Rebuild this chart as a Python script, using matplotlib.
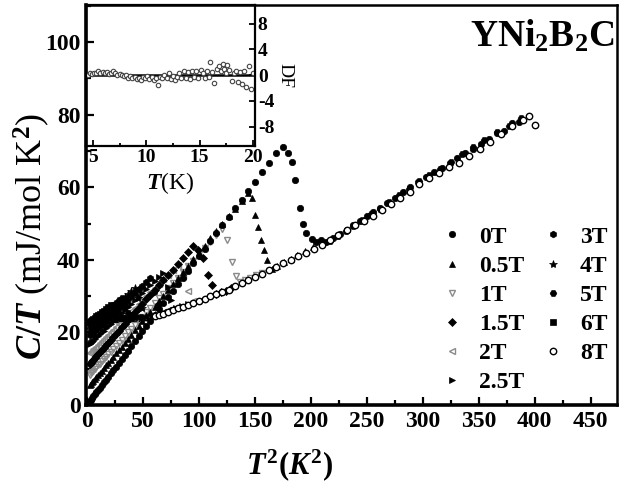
import matplotlib
matplotlib.use('Agg')
import matplotlib.pyplot as plt
from matplotlib.ticker import MultipleLocator
from matplotlib.lines import Line2D

plt.rcParams.update({
    'font.family': 'Liberation Serif',
    'font.weight': 'bold',
    'mathtext.fontset': 'custom',
    'mathtext.rm': 'Liberation Serif:bold',
    'mathtext.it': 'Liberation Serif:italic:bold',
    'mathtext.bf': 'Liberation Serif:bold',
    'axes.unicode_minus': False,
})

# ---------------- data ----------------
# common T^2 sampling (K^2)
T2_GRID = [2.5, 3.5, 4.6, 5.8, 7.1, 8.5, 10.0, 11.6, 13.3, 15.1, 17.0, 19.0, 21.2,
           23.5, 25.9, 28.4, 31.0, 33.8, 36.7, 39.7, 42.8, 46.1, 49.5, 53.0, 56.6,
           60.4, 64.3, 68.3, 72.4, 76.7, 81.1, 85.6, 90.3, 95.1, 100.0, 105.1, 110.3,
           115.6, 121.0, 126.6, 132.3, 138.1, 144.0, 150.1, 156.3, 162.6, 169.0, 175.5,
           182.1, 188.9, 195.8, 202.8, 209.9, 217.2, 224.6, 232.1, 239.8, 247.6, 255.5,
           263.5, 271.7, 280.0, 288.4, 297.0, 305.7, 314.5, 323.4, 332.5, 341.7, 351.0,
           360.5, 370.1, 379.8, 389.6, 395.0, 400.5]

# superconducting branches C/T (mJ/mol K^2) on T2_GRID
CT_0T = [1.0, 1.4, 1.9, 2.4, 2.9, 3.5, 4.1, 4.8, 5.4, 6.2, 7.0, 7.8, 8.7, 9.6, 10.6,
         11.6, 12.7, 13.9, 15.0, 16.3, 17.5, 18.9, 20.3, 21.7, 23.2, 24.8, 26.4, 28.0,
         29.7, 31.4, 33.3, 35.1, 37.0, 39.0, 41.0, 43.1, 45.2, 47.4, 49.6, 51.9, 54.2,
         56.6, 59.0, 61.5, 64.1, 66.7, 69.3, 71.2]
CT_05T = [5.4, 5.8, 6.2, 6.7, 7.2, 7.7, 8.3, 8.9, 9.5, 10.2, 10.9, 11.6, 12.5, 13.3,
          14.2, 15.2, 16.1, 17.2, 18.3, 19.4, 20.6, 21.8, 23.1, 24.4, 25.7, 27.1, 28.6,
          30.1, 31.6, 33.3, 34.9, 36.6, 38.4, 40.2, 42.0, 43.9, 45.9, 47.9, 49.9, 52.0,
          54.1, 56.3, 58.5]
CT_1T = [8.4, 8.7, 9.1, 9.5, 9.9, 10.4, 10.9, 11.4, 12.0, 12.6, 13.3, 14.0, 14.7, 15.5,
         16.3, 17.2, 18.0, 19.0, 20.0, 21.0, 22.1, 23.2, 24.3, 25.5, 26.7, 28.0, 29.4,
         30.7, 32.1, 33.6, 35.1, 36.6, 38.2, 39.8, 41.5, 43.2, 45.0, 46.8, 48.6]
CT_15T = [11.4, 11.7, 12.1, 12.5, 13.0, 13.5, 14.0, 14.6, 15.2, 15.8, 16.5, 17.2, 17.9,
          18.7, 19.6, 20.4, 21.4, 22.3, 23.3, 24.4, 25.5, 26.6, 27.8, 29.1, 30.3, 31.6,
          33.0, 34.4, 35.8, 37.3, 38.9, 40.5, 42.1, 43.8]
CT_2T = [14.3, 14.6, 14.9, 15.3, 15.7, 16.1, 16.6, 17.1, 17.6, 18.2, 18.8, 19.4, 20.1,
         20.8, 21.5, 22.3, 23.1, 24.0, 24.9, 25.8, 26.8, 27.8, 28.8, 29.9, 31.0, 32.2,
         33.4, 34.7, 35.9, 37.3, 38.6]
CT_25T = [16.8, 17.1, 17.4, 17.7, 18.1, 18.6, 19.0, 19.5, 20.0, 20.5, 21.1, 21.7, 22.4,
          23.1, 23.8, 24.5, 25.3, 26.1, 27.0, 27.9, 28.8, 29.8, 30.9, 31.9, 33.0, 34.1,
          35.3, 36.5]
CT_3T = [19.2, 19.5, 19.8, 20.2, 20.6, 21.0, 21.4, 21.9, 22.4, 22.9, 23.4, 24.0, 24.6,
         25.3, 26.0, 26.7, 27.5, 28.3, 29.1, 30.0, 30.9, 31.9, 32.9, 33.9, 34.9]
CT_4T = [21.0, 21.3, 21.6, 21.9, 22.3, 22.7, 23.1, 23.5, 24.0, 24.5, 25.1, 25.6, 26.2,
         26.9, 27.6, 28.3, 29.0, 29.8, 30.6, 31.4, 32.3]
CT_5T = [22.2, 22.4, 22.7, 23.0, 23.3, 23.7, 24.1, 24.5, 25.0, 25.4, 25.9, 26.4, 27.0,
         27.6, 28.2, 28.9, 29.6]
CT_6T = [23.0, 23.2, 23.5, 23.8, 24.1, 24.4, 24.8, 25.2, 25.6, 26.0, 26.5, 27.0, 27.5]
CT_8T = [22.8, 22.9, 23.0, 23.0, 23.1, 23.2, 23.2, 23.3, 23.3, 23.4, 23.4, 23.5, 23.5,
         23.6, 23.6, 23.7, 23.7, 23.8, 23.8, 23.9, 23.9, 24.0, 24.1, 24.2, 24.3,
         24.4, 24.8, 25.2, 25.7, 26.2, 26.7, 27.1, 27.6, 28.1, 28.7, 29.3, 29.9, 30.5,
         31.1, 31.8, 32.7, 33.6, 34.4, 35.3, 36.2, 37.2, 38.1, 39.1, 40.0, 41.0, 42.0,
         43.0, 44.0, 45.4, 46.8, 48.1, 49.5, 50.8, 52.2, 53.8, 55.4, 57.0, 58.8, 60.8,
         62.6, 64.0, 65.6, 66.8, 68.6, 70.6, 72.4, 74.6, 76.8, 78.6, 79.6, 77.2]

# transition (jump) and following normal-state points of each field
JT2_0T = [179.5, 183.0, 186.0, 190.0, 193.0, 196.0, 201.0, 205.0, 209.0]
JCT_0T = [69.4, 67.0, 62.0, 54.3, 50.0, 47.4, 45.6, 45.0, 45.4]
JT2_05T = [147.5, 150.1, 153.0, 155.5, 158.0, 161.0, 165.0, 170.0, 176.0, 182.0, 188.0, 195.0, 202.0, 210.0]
JCT_05T = [57.0, 52.3, 49.0, 45.5, 42.7, 40.0, 37.6, 38.4, 39.3, 40.2, 41.2, 42.3, 43.4, 44.5]
JT2_1T = [125.0, 129.5, 133.5, 137.0, 141.5, 146.0, 151.0, 156.0]
JCT_1T = [45.5, 39.4, 35.6, 33.8, 34.3, 35.0, 35.7, 36.5]
JT2_15T = [99.5, 103.6, 108.0, 111.6, 115.5, 119.5, 124.0, 128.5]
JCT_15T = [42.6, 40.5, 35.8, 33.0, 30.6, 31.0, 31.5, 32.2]
JT2_2T = [85.5, 90.5, 95.0, 99.0, 104.0, 109.0]
JCT_2T = [35.5, 31.3, 28.6, 28.7, 29.3, 29.9]
JT2_25T = [72.0, 75.5, 80.0, 85.0, 90.0]
JCT_25T = [32.5, 28.8, 26.7, 27.2, 27.7]
JT2_3T = [60.0, 63.5, 67.0, 71.0, 75.5]
JCT_3T = [31.2, 27.6, 25.2, 25.6, 26.1]
JT2_4T = [46.0, 49.5, 53.0, 57.0, 61.0]
JCT_4T = [29.6, 26.6, 24.5, 24.6, 24.7]
JT2_5T = [34.0, 37.0, 40.5, 44.0, 48.0]
JCT_5T = [27.4, 25.3, 24.1, 24.2, 24.3]
JT2_6T = [23.5, 26.0, 28.5, 31.0, 34.0]
JCT_6T = [26.0, 24.7, 23.9, 23.9, 24.0]

# high-temperature normal state of the filled-symbol data
NT2_0T = [214, 220, 226, 232, 238, 244, 250, 256, 262, 268, 275, 282, 289, 296, 303,
          310, 317, 324, 331, 338, 345, 352, 359, 366, 373, 380, 386]
NCT_0T = [44.8, 46.0, 47.2, 48.3, 49.6, 50.6, 52.0, 53.2, 54.4, 55.6, 57.0, 58.6, 60.0,
          61.4, 62.8, 64.2, 65.4, 66.8, 68.0, 69.4, 70.4, 72.0, 73.4, 74.8, 75.6, 77.6, 78.0]
NT2_5T = [217, 224, 231, 238, 246, 254, 262, 270, 279, 288, 297, 306, 315, 325, 335,
          345, 355, 366, 377, 388]
NCT_5T = [45.2, 46.6, 48.0, 49.3, 51.0, 52.6, 54.0, 55.8, 57.8, 59.6, 61.6, 63.4, 65.0,
          67.0, 69.2, 71.0, 73.0, 75.2, 77.0, 79.0]

# inset: deviation function DF vs T (K)
DF_T = [4.5, 4.7, 4.9, 5.1, 5.3, 5.5, 5.7, 5.9, 6.1, 6.3, 6.5, 6.7, 6.9, 7.1, 7.3, 7.5,
        7.7, 7.9, 8.1, 8.3, 8.5, 8.7, 8.9, 9.1, 9.3, 9.5, 9.7, 9.9, 10.1, 10.3, 10.5,
        10.7, 10.9, 11.1, 11.3, 11.5, 11.7, 11.9, 12.1, 12.3, 12.5, 12.7, 12.9, 13.1,
        13.3, 13.5, 13.7, 13.9, 14.1, 14.3, 14.5, 14.7, 14.9, 15.1, 15.3, 15.5, 15.7,
        15.9, 16.0, 16.2, 16.4, 16.6, 16.8, 17.0, 17.2, 17.3, 17.5, 17.6, 17.8, 18.0,
        18.2, 18.4, 18.6, 18.8, 19.0, 19.2, 19.4, 19.6, 19.8, 20.0]
DF_VAL = [0.1, 0.3, 0.2, 0.4, 0.3, 0.6, 0.4, 0.5, 0.3, 0.5, 0.2, 0.4, 0.6, 0.3, 0.1, 0.2,
          0.0, -0.2, 0.1, -0.4, -0.2, -0.5, -0.3, -0.6, -0.4, -0.7, -0.3, -0.5, -0.2,
          -0.6, -0.3, -0.8, -0.4, -1.6, -0.3, -0.5, 0.1, -0.4, 0.3, -0.6, -0.2, -0.7,
          -0.3, 0.4, -0.5, 0.6, -0.4, 0.5, -0.6, 0.7, -0.3, 0.6, -0.5, 0.8, 0.4, -0.4,
          0.7, -0.3, 2.1, 0.5, -1.2, 0.9, 1.4, 0.6, 1.8, 1.0, 0.4, 1.6, 0.8, -0.9, 0.3,
          0.6, -1.0, 0.5, -1.4, 0.7, -1.8, 1.5, -2.1, 0.4]

LABELS = ['0T', '0.5T', '1T', '1.5T', '2T', '2.5T', '3T', '4T', '5T', '6T', '8T']

# ---------------- figure ----------------
W, H = 619, 497
fig = plt.figure(figsize=(W / 100, H / 100), dpi=100)
ax = fig.add_axes([86 / W, 92 / H, 531 / W, 400 / H])

GRAY = '#8a8a8a'
styles = {
    '0T': dict(marker='o', ms=4.6, mfc='black', mec='black', mew=0.5),
    '0.5T': dict(marker='^', ms=4.8, mfc='black', mec='black', mew=0.5),
    '1T': dict(marker='v', ms=5.0, mfc='none', mec=GRAY, mew=1.0),
    '1.5T': dict(marker='D', ms=4.2, mfc='black', mec='black', mew=0.5),
    '2T': dict(marker='<', ms=5.0, mfc='none', mec=GRAY, mew=1.0),
    '2.5T': dict(marker='>', ms=4.8, mfc='black', mec='black', mew=0.5),
    '3T': dict(marker='h', ms=4.8, mfc='black', mec='black', mew=0.5),
    '4T': dict(marker='*', ms=6.0, mfc='black', mec='black', mew=0.5),
    '5T': dict(marker='H', ms=4.8, mfc='black', mec='black', mew=0.5),
    '6T': dict(marker='s', ms=4.2, mfc='black', mec='black', mew=0.5),
    '8T': dict(marker='o', ms=4.6, mfc='white', mec='black', mew=1.0),
}

field_data = {
    '0T': (CT_0T, JT2_0T + NT2_0T, JCT_0T + NCT_0T),
    '0.5T': (CT_05T, JT2_05T, JCT_05T),
    '1T': (CT_1T, JT2_1T, JCT_1T),
    '1.5T': (CT_15T, JT2_15T, JCT_15T),
    '2T': (CT_2T, JT2_2T, JCT_2T),
    '2.5T': (CT_25T, JT2_25T, JCT_25T),
    '3T': (CT_3T, JT2_3T, JCT_3T),
    '4T': (CT_4T, JT2_4T, JCT_4T),
    '5T': (CT_5T, JT2_5T + NT2_5T, JCT_5T + NCT_5T),
    '6T': (CT_6T, JT2_6T, JCT_6T),
}

# 8T: low-temperature part sits under the other fields, normal part on top
n_low8 = 25
ax.plot(T2_GRID[:n_low8], CT_8T[:n_low8], ls='none', zorder=1.5, **styles['8T'])

draw_order = ['1T', '2T', '6T', '5T', '4T', '3T', '2.5T', '1.5T', '0.5T', '0T']
for lab in draw_order:
    ct, jt2, jct = field_data[lab]
    xs = T2_GRID[:len(ct)] + jt2
    ys = ct + jct
    ax.plot(xs, ys, ls='none', zorder=2, **styles[lab])

ax.plot(T2_GRID[n_low8:len(CT_8T)], CT_8T[n_low8:], ls='none', zorder=3, **styles['8T'])

ax.set_xlim(-0.8, 473.5)
ax.set_ylim(0, 110.2)
ax.xaxis.set_major_locator(MultipleLocator(50))
ax.xaxis.set_minor_locator(MultipleLocator(25))
ax.yaxis.set_major_locator(MultipleLocator(20))
ax.yaxis.set_minor_locator(MultipleLocator(10))
ax.tick_params(which='both', direction='in', top=False, right=False, width=1.6,
               labelsize=17, pad=4)
ax.tick_params(which='major', length=6)
ax.tick_params(which='minor', length=3.5)
for s in ['left', 'bottom']:
    ax.spines[s].set_linewidth(2.6)
for s in ['top', 'right']:
    ax.spines[s].set_linewidth(1.8)

ax.set_xlabel(r'$T^2(K^2)$', fontsize=22)
ax.xaxis.set_label_coords(0.384, -0.105)
ax.set_ylabel(r'$C/T$ (mJ/mol K$^2$)', fontsize=26)
ax.yaxis.set_label_coords(-0.064, 0.42)

ax.text(0.996, 0.968, r'YNi$_2$B$_2$C', transform=ax.transAxes, ha='right', va='top',
        fontsize=27)

handles = [Line2D([], [], ls='none', **styles[l]) for l in LABELS]
ax.legend(handles, LABELS, ncol=2, loc='upper left', bbox_to_anchor=(0.671, 0.447),
          frameon=False, fontsize=17, handlelength=0.8, handletextpad=0.75,
          columnspacing=0.8, labelspacing=0.32, borderpad=0, borderaxespad=0)

# ---------------- inset ----------------
axin = fig.add_axes([86 / W, (H - 146) / H, (255 - 86) / W, (146 - 5) / H])
axin.patch.set_alpha(0)
axin.axhline(0, color='black', lw=1.8, zorder=1)
axin.plot(DF_T, DF_VAL, ls='none', marker='o', ms=3.2, mfc='white', mec='#444444',
          mew=0.8, zorder=2)
axin.set_xlim(4.35, 20.2)
axin.set_ylim(-11.0, 10.9)
axin.xaxis.set_major_locator(MultipleLocator(5))
axin.xaxis.set_minor_locator(MultipleLocator(2.5))
axin.yaxis.tick_right()
axin.yaxis.set_label_position('right')
axin.set_yticks([-8, -4, 0, 4, 8])
axin.tick_params(which='both', direction='in', labelsize=14, width=1.3, pad=2,
                 left=False, top=False)
axin.tick_params(which='major', length=4)
axin.tick_params(which='minor', length=2.5)
for s in axin.spines.values():
    s.set_linewidth(1.6)
axin.set_xlabel(r'$T$(K)', fontsize=17, labelpad=3)
axin.set_ylabel('DF', fontsize=14, rotation=270, labelpad=14)

fig.savefig('out.png', dpi=100)
